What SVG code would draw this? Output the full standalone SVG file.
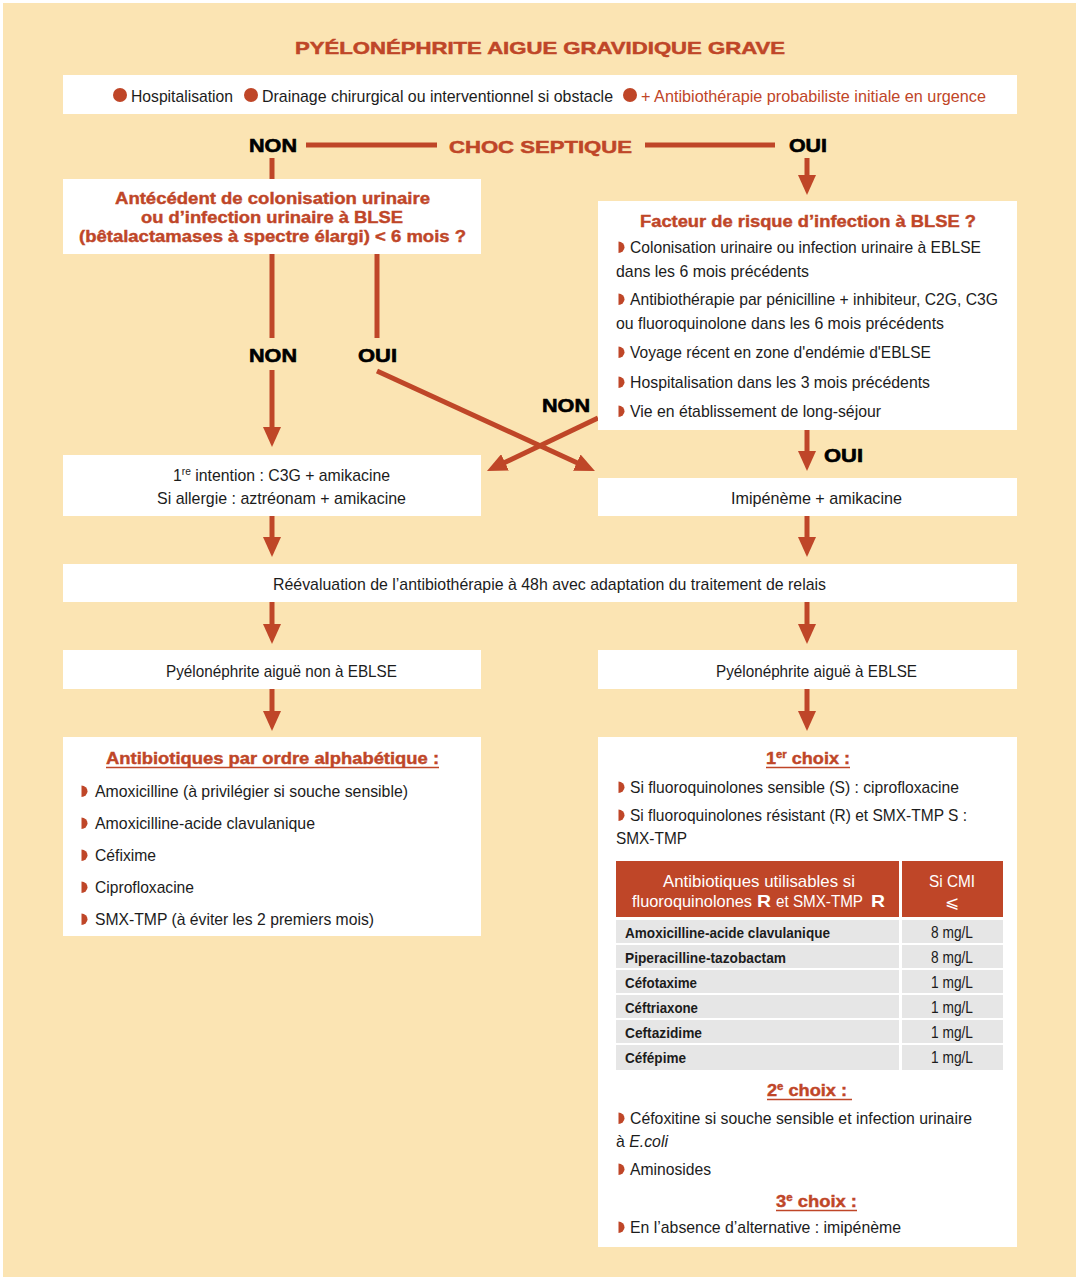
<svg xmlns="http://www.w3.org/2000/svg" width="1079" height="1280" viewBox="0 0 1079 1280">
<style>
text{font-family:"Liberation Sans",Arial,sans-serif;fill:#1c1c1c;font-size:17px}
.b{font-weight:bold}
.red{fill:#BF4628}
.hv{stroke:#BF4628;stroke-width:0.5}
.h{font-weight:bold;font-size:16px;fill:#BF4628;stroke:#BF4628;stroke-width:0.4}
.lab{font-weight:bold;font-size:19px;fill:#000;stroke:#000;stroke-width:0.6}
.box{fill:#fff}
.tb{font-weight:bold;font-size:15px}
.th{fill:#fff;font-size:17px}
.row{fill:#E6E6E6}
.con{stroke:#BF4628;stroke-width:5;fill:none}
.ul{stroke:#BF4628;stroke-width:1.6}
.mk{fill:#BF4628}
</style>
<defs>
<marker id="ah" markerUnits="userSpaceOnUse" markerWidth="20" markerHeight="18" viewBox="0 0 20 18" refX="2" refY="9" orient="auto">
<path d="M0,0 L20,9 L0,18 z" fill="#BF4628"/>
</marker>
<path id="bul" d="M-0.5,-11.5 a6,5.75 0 0 1 0,11.5 z"/>
</defs>
<rect x="0" y="0" width="1079" height="1280" fill="#fff"/>
<rect x="3" y="3" width="1073" height="1274" fill="#FBE4B3"/>

<text class="b red hv" x="295" y="54" font-size="20" textLength="490" lengthAdjust="spacingAndGlyphs">PYÉLONÉPHRITE AIGUE GRAVIDIQUE GRAVE</text>

<g id="connectors">
<line class="con" x1="306" y1="145" x2="437" y2="145" stroke-width="4"/>
<line class="con" x1="645" y1="145" x2="775" y2="145" stroke-width="4"/>
<line class="con" x1="272" y1="158" x2="272" y2="180"/>
<line class="con" x1="807" y1="158" x2="807" y2="177" marker-end="url(#ah)"/>
<line class="con" x1="272" y1="253" x2="272" y2="338"/>
<line class="con" x1="377" y1="253" x2="377" y2="338"/>
<line class="con" x1="272" y1="370" x2="272" y2="429" marker-end="url(#ah)"/>
<line class="con" x1="377" y1="371" x2="578.6" y2="463.5" marker-end="url(#ah)"/>
<line class="con" x1="598" y1="418" x2="503.2" y2="463.2" marker-end="url(#ah)"/>
<line class="con" x1="807" y1="430" x2="807" y2="453" marker-end="url(#ah)"/>
<line class="con" x1="272" y1="516" x2="272" y2="539" marker-end="url(#ah)"/>
<line class="con" x1="807" y1="516" x2="807" y2="539" marker-end="url(#ah)"/>
<line class="con" x1="272" y1="602" x2="272" y2="626" marker-end="url(#ah)"/>
<line class="con" x1="807" y1="602" x2="807" y2="626" marker-end="url(#ah)"/>
<line class="con" x1="272" y1="689" x2="272" y2="713" marker-end="url(#ah)"/>
<line class="con" x1="807" y1="689" x2="807" y2="713" marker-end="url(#ah)"/>
</g>

<g id="labels">
<text class="lab" x="249" y="152" textLength="48" lengthAdjust="spacingAndGlyphs">NON</text>
<text class="b red hv" x="449" y="153" font-size="20" textLength="183" lengthAdjust="spacingAndGlyphs">CHOC SEPTIQUE</text>
<text class="lab" x="789" y="152" textLength="38" lengthAdjust="spacingAndGlyphs">OUI</text>
<text class="lab" x="249" y="362" textLength="48" lengthAdjust="spacingAndGlyphs">NON</text>
<text class="lab" x="358" y="362" textLength="39" lengthAdjust="spacingAndGlyphs">OUI</text>
<text class="lab" x="542" y="412" textLength="48" lengthAdjust="spacingAndGlyphs">NON</text>
<text class="lab" x="824" y="462" textLength="39" lengthAdjust="spacingAndGlyphs">OUI</text>
</g>

<g id="n-top">
<rect class="box" x="63" y="75" width="954" height="39"/>
<circle class="mk" cx="120" cy="95" r="7"/>
<circle class="mk" cx="251" cy="95" r="7"/>
<circle class="mk" cx="630" cy="95" r="7"/>
<text x="131" y="102" font-size="18" textLength="102" lengthAdjust="spacingAndGlyphs">Hospitalisation</text>
<text x="262" y="102" font-size="18" textLength="351" lengthAdjust="spacingAndGlyphs">Drainage chirurgical ou interventionnel si obstacle</text>
<text class="red" x="641" y="102" font-size="18" textLength="345" lengthAdjust="spacingAndGlyphs">+ Antibiothérapie probabiliste initiale en urgence</text>
</g>

<g id="n-blse-q">
<rect class="box" x="63" y="179" width="418" height="75"/>
<text class="h" x="115" y="204" textLength="315" lengthAdjust="spacingAndGlyphs">Antécédent de colonisation urinaire</text>
<text class="h" x="141" y="223" textLength="262" lengthAdjust="spacingAndGlyphs">ou d’infection urinaire à BLSE</text>
<text class="h" x="79" y="242" textLength="387" lengthAdjust="spacingAndGlyphs">(bêtalactamases à spectre élargi) &lt; 6 mois ?</text>
</g>

<g id="n-risk">
<rect class="box" x="598" y="201" width="419" height="229"/>
<text class="h" x="640" y="227" textLength="336" lengthAdjust="spacingAndGlyphs">Facteur de risque d’infection à BLSE ?</text>
<use href="#bul" class="mk" x="619" y="253"/>
<text x="630" y="253" textLength="351" lengthAdjust="spacingAndGlyphs">Colonisation urinaire ou infection urinaire à EBLSE</text>
<text x="616" y="277" textLength="193" lengthAdjust="spacingAndGlyphs">dans les 6 mois précédents</text>
<use href="#bul" class="mk" x="619" y="305"/>
<text x="630" y="305" textLength="368" lengthAdjust="spacingAndGlyphs">Antibiothérapie par pénicilline + inhibiteur, C2G, C3G</text>
<text x="616" y="329" textLength="328" lengthAdjust="spacingAndGlyphs">ou fluoroquinolone dans les 6 mois précédents</text>
<use href="#bul" class="mk" x="619" y="358"/>
<text x="630" y="358" textLength="301" lengthAdjust="spacingAndGlyphs">Voyage récent en zone d'endémie d'EBLSE</text>
<use href="#bul" class="mk" x="619" y="388"/>
<text x="630" y="388" textLength="300" lengthAdjust="spacingAndGlyphs">Hospitalisation dans les 3 mois précédents</text>
<use href="#bul" class="mk" x="619" y="417"/>
<text x="630" y="417" textLength="251" lengthAdjust="spacingAndGlyphs">Vie en établissement de long-séjour</text>
</g>

<g id="n-c3g">
<rect class="box" x="63" y="455" width="418" height="61"/>
<text x="173" y="481" textLength="217" lengthAdjust="spacingAndGlyphs">1<tspan font-size="11" dy="-6">re</tspan><tspan dy="6"> intention : C3G + amikacine</tspan></text>
<text x="157" y="504" textLength="249" lengthAdjust="spacingAndGlyphs">Si allergie : aztréonam + amikacine</text>
</g>

<g id="n-imipeneme">
<rect class="box" x="598" y="478" width="419" height="38"/>
<text x="731" y="504" textLength="171" lengthAdjust="spacingAndGlyphs">Imipénème + amikacine</text>
</g>

<g id="n-reeval">
<rect class="box" x="63" y="564" width="954" height="38"/>
<text x="273" y="590" textLength="553" lengthAdjust="spacingAndGlyphs">Réévaluation de l’antibiothérapie à 48h avec adaptation du traitement de relais</text>
</g>

<g id="n-non-eblse">
<rect class="box" x="63" y="650" width="418" height="39"/>
<text x="166" y="677" textLength="231" lengthAdjust="spacingAndGlyphs">Pyélonéphrite aiguë non à EBLSE</text>
</g>

<g id="n-eblse">
<rect class="box" x="598" y="650" width="419" height="39"/>
<text x="716" y="677" textLength="201" lengthAdjust="spacingAndGlyphs">Pyélonéphrite aiguë à EBLSE</text>
</g>

<g id="n-abx-list">
<rect class="box" x="63" y="737" width="418" height="199"/>
<text class="h" x="106" y="764" textLength="333" lengthAdjust="spacingAndGlyphs">Antibiotiques par ordre alphabétique :</text>
<line class="ul" x1="106" y1="767.5" x2="439" y2="767.5"/>
<use href="#bul" class="mk" x="82" y="797"/>
<text x="95" y="797" textLength="313" lengthAdjust="spacingAndGlyphs">Amoxicilline (à privilégier si souche sensible)</text>
<use href="#bul" class="mk" x="82" y="829"/>
<text x="95" y="829" textLength="220" lengthAdjust="spacingAndGlyphs">Amoxicilline-acide clavulanique</text>
<use href="#bul" class="mk" x="82" y="861"/>
<text x="95" y="861" textLength="61" lengthAdjust="spacingAndGlyphs">Céfixime</text>
<use href="#bul" class="mk" x="82" y="893"/>
<text x="95" y="893" textLength="99" lengthAdjust="spacingAndGlyphs">Ciprofloxacine</text>
<use href="#bul" class="mk" x="82" y="925"/>
<text x="95" y="925" textLength="279" lengthAdjust="spacingAndGlyphs">SMX-TMP (à éviter les 2 premiers mois)</text>
</g>

<g id="n-choix">
<rect class="box" x="598" y="737" width="419" height="510"/>
<text class="h" x="766" y="764" textLength="84" lengthAdjust="spacingAndGlyphs">1<tspan font-size="10" dy="-6">er</tspan><tspan dy="6"> choix :</tspan></text>
<line class="ul" x1="766" y1="767.5" x2="850" y2="767.5"/>
<use href="#bul" class="mk" x="619" y="793"/>
<text x="630" y="793" textLength="329" lengthAdjust="spacingAndGlyphs">Si fluoroquinolones sensible (S) : ciprofloxacine</text>
<use href="#bul" class="mk" x="619" y="821"/>
<text x="630" y="821" textLength="337" lengthAdjust="spacingAndGlyphs">Si fluoroquinolones résistant (R) et SMX-TMP S :</text>
<text x="616" y="844" textLength="71" lengthAdjust="spacingAndGlyphs">SMX-TMP</text>

<rect x="616" y="861" width="283" height="56" fill="#BF4628"/>
<rect x="902" y="861" width="101" height="56" fill="#BF4628"/>
<text class="th" x="663" y="887" textLength="192" lengthAdjust="spacingAndGlyphs">Antibiotiques utilisables si</text>
<text class="th" x="632" y="907" textLength="120" lengthAdjust="spacingAndGlyphs">fluoroquinolones</text>
<text class="th b" x="757" y="907" font-size="18" textLength="14" lengthAdjust="spacingAndGlyphs">R</text>
<text class="th" x="776" y="907" textLength="87" lengthAdjust="spacingAndGlyphs">et SMX-TMP</text>
<text class="th b" x="871" y="907" font-size="18" textLength="14" lengthAdjust="spacingAndGlyphs">R</text>
<text class="th" x="929" y="887" textLength="46" lengthAdjust="spacingAndGlyphs">Si CMI</text>
<text class="th" x="952" y="908" text-anchor="middle" font-family="DejaVu Sans, sans-serif" font-size="15">⩽</text>

<rect class="row" x="616" y="920" width="283" height="23"/><rect class="row" x="902" y="920" width="101" height="23"/>
<rect class="row" x="616" y="945" width="283" height="23"/><rect class="row" x="902" y="945" width="101" height="23"/>
<rect class="row" x="616" y="970" width="283" height="23"/><rect class="row" x="902" y="970" width="101" height="23"/>
<rect class="row" x="616" y="995" width="283" height="23"/><rect class="row" x="902" y="995" width="101" height="23"/>
<rect class="row" x="616" y="1020" width="283" height="23"/><rect class="row" x="902" y="1020" width="101" height="23"/>
<rect class="row" x="616" y="1045" width="283" height="25"/><rect class="row" x="902" y="1045" width="101" height="25"/>
<text class="tb" x="625" y="938" textLength="205" lengthAdjust="spacingAndGlyphs">Amoxicilline-acide clavulanique</text>
<text class="tb" x="625" y="963" textLength="161" lengthAdjust="spacingAndGlyphs">Piperacilline-tazobactam</text>
<text class="tb" x="625" y="988" textLength="72" lengthAdjust="spacingAndGlyphs">Céfotaxime</text>
<text class="tb" x="625" y="1013" textLength="73" lengthAdjust="spacingAndGlyphs">Céftriaxone</text>
<text class="tb" x="625" y="1038" textLength="77" lengthAdjust="spacingAndGlyphs">Ceftazidime</text>
<text class="tb" x="625" y="1063" textLength="61" lengthAdjust="spacingAndGlyphs">Céfépime</text>
<text x="931" y="938" font-size="16" textLength="42" lengthAdjust="spacingAndGlyphs">8 mg/L</text>
<text x="931" y="963" font-size="16" textLength="42" lengthAdjust="spacingAndGlyphs">8 mg/L</text>
<text x="931" y="988" font-size="16" textLength="42" lengthAdjust="spacingAndGlyphs">1 mg/L</text>
<text x="931" y="1013" font-size="16" textLength="42" lengthAdjust="spacingAndGlyphs">1 mg/L</text>
<text x="931" y="1038" font-size="16" textLength="42" lengthAdjust="spacingAndGlyphs">1 mg/L</text>
<text x="931" y="1063" font-size="16" textLength="42" lengthAdjust="spacingAndGlyphs">1 mg/L</text>

<text class="h" x="767" y="1096" textLength="80" lengthAdjust="spacingAndGlyphs">2<tspan font-size="10" dy="-6">e</tspan><tspan dy="6"> choix :</tspan></text>
<line class="ul" x1="767" y1="1099.5" x2="852" y2="1099.5"/>
<use href="#bul" class="mk" x="619" y="1124"/>
<text x="630" y="1124" textLength="342" lengthAdjust="spacingAndGlyphs">Céfoxitine si souche sensible et infection urinaire</text>
<text x="616" y="1147" textLength="52" lengthAdjust="spacingAndGlyphs">à <tspan font-style="italic">E.coli</tspan></text>
<use href="#bul" class="mk" x="619" y="1175"/>
<text x="630" y="1175" textLength="81" lengthAdjust="spacingAndGlyphs">Aminosides</text>
<text class="h" x="776" y="1207" textLength="81" lengthAdjust="spacingAndGlyphs">3<tspan font-size="10" dy="-6">e</tspan><tspan dy="6"> choix :</tspan></text>
<line class="ul" x1="776" y1="1210.5" x2="857" y2="1210.5"/>
<use href="#bul" class="mk" x="619" y="1233"/>
<text x="630" y="1233" textLength="271" lengthAdjust="spacingAndGlyphs">En l’absence d’alternative : imipénème</text>
</g>
</svg>
